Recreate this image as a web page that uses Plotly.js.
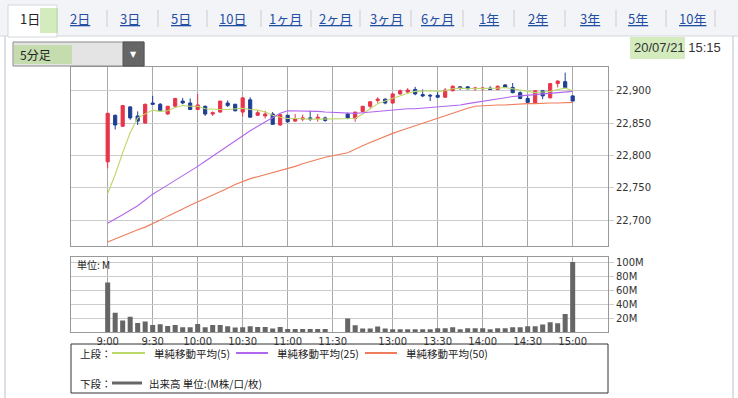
<!DOCTYPE html>
<html><head><meta charset="utf-8">
<script src="https://cdn.plot.ly/plotly-3.0.1.min.js"></script>
<style>html,body{margin:0;padding:0;background:#fff;}#chart{width:738px;height:398px;}</style>
</head><body><div id="chart"></div>
<script>
// ---- data (index 0..62 : 9:00..11:30, gap, 12:30..15:00, 5-minute bars) ----
const barIndex = Array.from({length:63},(_,i)=>i);
const openP  = [22790,22862,22845,22875,22861,22850,22881,22879,22864,22876,22884,22881,22871,22876,22864,22867,22881,22879,22867,22886,22862,22861,22864,22847,22862,22853,22856,22858,22857,22858,null,null,22864,22857,22868,22876,22885,22887,22881,22895,22898,22902,22894,22893,22893,22890,22900,22906,22906,22903,22903,22904,22902,22909,22905,22897,22888,22881,22900,22889,22911,22914,22892];
const highP  = [22866,22863,22878,22876,22868,22880,22892,22881,22876,22889,22889,22888,22895,22877,22868,22884,22885,22880,22889,22890,22870,22869,22867,22863,22863,22864,22863,22869,22864,22860,null,null,22866,22867,22876,22883,22890,22888,22896,22902,22904,22906,22902,22895,22898,22904,22908,22907,22907,22906,22906,22907,22908,22910,22912,22899,22892,22900,22901,22912,22916,22928,22893];
const lowP   = [22780,22840,22844,22855,22847,22849,22879,22868,22863,22875,22879,22870,22870,22861,22861,22866,22875,22868,22860,22859,22861,22857,22848,22846,22850,22852,22853,22853,22852,22852,null,null,22856,22852,22867,22872,22881,22879,22880,22894,22896,22893,22890,22884,22889,22889,22899,22901,22902,22900,22900,22901,22901,22904,22896,22887,22880,22880,22887,22888,22905,22904,22884];
const closeP = [22865,22847,22877,22858,22853,22879,22879,22869,22876,22888,22881,22871,22878,22864,22866,22884,22877,22869,22889,22859,22866,22864,22848,22863,22852,22857,22858,22856,22859,22854,null,null,22858,22867,22876,22883,22887,22881,22895,22900,22901,22895,22892,22892,22890,22901,22907,22904,22903,22904,22904,22902,22907,22905,22897,22888,22882,22900,22892,22911,22915,22905,22884];
const ma5    = [22741,22770,22804,22835,22858,22864,22870,22868,22869,22874,22877,22876,22876,22872,22871,22871,22871,22872,22873,22871,22870,22867,22862,22859,22857,22857,22856,22856,22856,22856,null,null,22856,22857,22864,22872,22880,22884,22888,22893,22896,22899,22900,22900,22899,22900,22903,22904,22903,22903,22903,22903,22904,22905,22903,22901,22898,22897,22898,22899,22902,22904,22900];
const ma25   = [22695,22701,22708,22715,22722,22731,22740,22747,22754,22761,22768,22775,22783,22791,22799,22807,22815,22823,22831,22838,22845,22852,22859,22865,22869,22869,22869,22868,22868,22867,null,null,22865,22865,22866,22867,22868,22869,22871,22871,22872,22872,22873,22873,22874,22875,22877,22878,22880,22882,22884,22886,22888,22890,22891,22892,22893,22894,22895,22896,22897,22898,22899];
const ma50   = [22666,22671,22675,22680,22685,22689,22694,22700,22706,22711,22717,22723,22728,22734,22739,22744,22749,22755,22760,22764,22767,22770,22774,22777,22780,22783,22787,22790,22794,22797,null,null,22804,22810,22815,22820,22825,22830,22834,22838,22842,22846,22850,22854,22857,22861,22865,22869,22873,22876,22877,22878,22878,22878,22879,22879,22880,22880,22881,22881,22881,22882,22882];
const volumeM= [71,27.7,16.5,21.8,13,15,10,11,8.7,10,6.8,6.8,11.6,6.8,10,10,8.3,6.3,6.8,8.3,7.3,7.3,4.9,7.3,4.4,4.4,4.4,4.4,4.4,4.4,null,null,19.4,9.7,4.9,4.9,7.8,4.9,3.9,3.9,3.9,3.9,3.9,3.9,5.3,5.3,6.8,3.9,5.3,5.3,5.3,3.9,5.3,5.3,6.8,6.8,8.3,8.3,10.7,14,12.6,25.7,100.5];
const timeTickIdx = [0,6,12,18,24,30,38,44,50,56,62];
const timeTickText = ['9:00','9:30','10:00','10:30','11:00','11:30','13:00','13:30','14:00','14:30','15:00'];
const priceTicks = [22700,22750,22800,22850,22900];
const volTicks = [20,40,60,80,100];
const volTickText = ['20M','40M','60M','80M','100M'];
const tabLabels = ['1日','2日','3日','5日','10日','1ヶ月','2ヶ月','3ヶ月','6ヶ月','1年','2年','3年','5年','10年'];
const legendLabels = ['単純移動平均(5)','単純移動平均(25)','単純移動平均(50)'];

// ---- page geometry helpers ----
const W=738,H=398,ML=71,MR=130,MT=67,MB=66;
const PW=W-ML-MR, PH=H-MT-MB;
const px=x=>(x-ML)/PW, py=y=>(H-MB-y)/PH;
const JP='Noto Sans CJK JP, sans-serif';
const NUM='DejaVu Sans, sans-serif';

const cRed='#e8344a', cBlue='#1f3f94';
const cMA5='#bcd86a', cMA25='#b266ee', cMA50='#ef7d5c';

const traces=[
 {type:'candlestick',x:barIndex,open:openP,high:highP,low:lowP,close:closeP,xaxis:'x',yaxis:'y',
  increasing:{line:{color:cRed,width:1},fillcolor:cRed},
  decreasing:{line:{color:cBlue,width:1},fillcolor:cBlue},
  whiskerwidth:0,showlegend:false,hoverinfo:'skip'},
 {type:'scatter',mode:'lines',x:barIndex,y:ma5,connectgaps:true,line:{color:cMA5,width:1.1},xaxis:'x',yaxis:'y',showlegend:false,hoverinfo:'skip'},
 {type:'scatter',mode:'lines',x:barIndex,y:ma25,connectgaps:true,line:{color:cMA25,width:1.1},xaxis:'x',yaxis:'y',showlegend:false,hoverinfo:'skip'},
 {type:'scatter',mode:'lines',x:barIndex,y:ma50,connectgaps:true,line:{color:cMA50,width:1.1},xaxis:'x',yaxis:'y',showlegend:false,hoverinfo:'skip'},
 {type:'bar',x:barIndex,y:volumeM,marker:{color:'#666666'},xaxis:'x2',yaxis:'y2',showlegend:false,hoverinfo:'skip'}
];

const xr=[-4.89,66.71];
const shapes=[], ann=[];
// header bar
shapes.push({type:'rect',xref:'paper',yref:'paper',x0:px(0),x1:px(738),y0:py(36),y1:py(0),fillcolor:'#f3f4f7',line:{width:0},layer:'below'});
shapes.push({type:'line',xref:'paper',yref:'paper',x0:px(0),x1:px(738),y0:py(36),y1:py(36),line:{color:'#d4d7de',width:1}});
shapes.push({type:'rect',xref:'paper',yref:'paper',x0:px(8),x1:px(57),y0:py(37),y1:py(5),fillcolor:'#ffffff',line:{color:'#d4d7de',width:1}});
// outer frame
shapes.push({type:'line',xref:'paper',yref:'paper',x0:px(5),x1:px(5),y0:py(36),y1:py(398),line:{color:'#cfd4de',width:1.5}});
shapes.push({type:'line',xref:'paper',yref:'paper',x0:px(733),x1:px(733),y0:py(36),y1:py(398),line:{color:'#cfd4de',width:1.5}});
// tabs
const tabX=[30,80,130,181,232,285,335,386,437,489,538,590,638,692];
const sepX=[107,158,207,261,311,360,411,463,514,565,616,666,715];
tabLabels.forEach((t,i)=>{
  ann.push({xref:'paper',yref:'paper',x:px(tabX[i]),y:py(18),xanchor:'center',yanchor:'middle',showarrow:false,
    text: i===0? t : '<span style="text-decoration:underline">'+t+'</span>',
    font:{family:JP,size:13,color:i===0?'#222':'#1f4ea3'}});
});
sepX.forEach(s=>shapes.push({type:'line',xref:'paper',yref:'paper',x0:px(s),x1:px(s),y0:py(10),y1:py(27),line:{color:'#cccccc',width:1}}));
// dropdown
shapes.push({type:'rect',xref:'paper',yref:'paper',x0:px(13),x1:px(144),y0:py(66),y1:py(42),fillcolor:'#e4e4e4',line:{color:'#8a8a8a',width:1}});
shapes.push({type:'rect',xref:'paper',yref:'paper',x0:px(123),x1:px(144),y0:py(66),y1:py(42),fillcolor:'#666666',line:{color:'#555',width:1}});
ann.push({xref:'paper',yref:'paper',x:px(133.5),y:py(54),xanchor:'center',yanchor:'middle',showarrow:false,text:'▼',font:{family:NUM,size:8,color:'#ffffff'}});
ann.push({xref:'paper',yref:'paper',x:px(18),y:py(54),xanchor:'left',yanchor:'middle',showarrow:false,text:'5分足',font:{family:JP,size:12,color:'#222'}});
// date
ann.push({xref:'paper',yref:'paper',x:px(723),y:py(47),xanchor:'right',yanchor:'middle',showarrow:false,text:'20/07/21 15:15',font:{family:'Liberation Sans, Arial, sans-serif',size:13,color:'#333'}});
// highlighter marks
const hl='rgba(160,210,110,0.45)';
shapes.push({type:'rect',xref:'paper',yref:'paper',x0:px(40),x1:px(58),y0:py(33),y1:py(8),fillcolor:hl,line:{width:0}});
shapes.push({type:'rect',xref:'paper',yref:'paper',x0:px(14),x1:px(72),y0:py(64),y1:py(45),fillcolor:hl,line:{width:0}});
shapes.push({type:'rect',xref:'paper',yref:'paper',x0:px(630),x1:px(685),y0:py(59),y1:py(37),fillcolor:hl,line:{width:0}});
// volume unit label
ann.push({xref:'paper',yref:'paper',x:px(75),y:py(264),xanchor:'left',yanchor:'middle',showarrow:false,text:'単位: M',font:{family:JP,size:10,color:'#222'}});
// legend box
shapes.push({type:'rect',xref:'paper',yref:'paper',x0:px(71),x1:px(608),y0:py(393),y1:py(344),line:{color:'#333',width:1},fillcolor:'rgba(0,0,0,0)'});
ann.push({xref:'paper',yref:'paper',x:px(78),y:py(353),xanchor:'left',yanchor:'middle',showarrow:false,text:'上段：',font:{family:JP,size:10.5,color:'#222'}});
ann.push({xref:'paper',yref:'paper',x:px(78),y:py(383),xanchor:'left',yanchor:'middle',showarrow:false,text:'下段：',font:{family:JP,size:10.5,color:'#222'}});
const lgLineX=[[112,145],[236,268],[365,397]], lgTextX=[152,275,404], lgCol=[cMA5,cMA25,cMA50];
legendLabels.forEach((t,i)=>{
  shapes.push({type:'line',xref:'paper',yref:'paper',x0:px(lgLineX[i][0]),x1:px(lgLineX[i][1]),y0:py(353),y1:py(353),line:{color:lgCol[i],width:2}});
  ann.push({xref:'paper',yref:'paper',x:px(lgTextX[i]),y:py(353),xanchor:'left',yanchor:'middle',showarrow:false,text:t,font:{family:JP,size:10.5,color:'#222'}});
});
shapes.push({type:'line',xref:'paper',yref:'paper',x0:px(112),x1:px(142),y0:py(383),y1:py(383),line:{color:'#666',width:3}});
ann.push({xref:'paper',yref:'paper',x:px(147),y:py(383),xanchor:'left',yanchor:'middle',showarrow:false,text:'出来高 単位:(M株/口/枚)',font:{family:JP,size:10.5,color:'#222'}});

const layout={
 width:W,height:H,margin:{l:ML,r:MR,t:MT,b:MB,pad:0},
 paper_bgcolor:'#ffffff',plot_bgcolor:'#ffffff',showlegend:false,
 boxgap:0.4,bargap:0.33,
 xaxis:{domain:[0,1],range:xr,anchor:'y',tickmode:'array',tickvals:timeTickIdx,showticklabels:false,
   showgrid:true,gridcolor:'#aaaaaa',gridwidth:1,showline:true,mirror:true,linecolor:'#999',zeroline:false,
   rangeslider:{visible:false},fixedrange:true,ticks:''},
 yaxis:{domain:[py(246),1],range:[22659.8,22936.7],anchor:'x',side:'right',tickmode:'array',tickvals:priceTicks,
   tickformat:',d',showgrid:true,gridcolor:'#cccccc',showline:true,mirror:true,linecolor:'#999',zeroline:false,
   ticks:'outside',ticklen:5,tickcolor:'#cccccc',tickfont:{family:NUM,size:10,color:'#333'},fixedrange:true},
 xaxis2:{domain:[0,1],range:xr,anchor:'y2',tickmode:'array',tickvals:timeTickIdx,ticktext:timeTickText,
   showgrid:true,gridcolor:'#aaaaaa',showline:true,mirror:true,linecolor:'#999',zeroline:false,ticks:'',
   tickfont:{family:NUM,size:10,color:'#333'},fixedrange:true},
 yaxis2:{domain:[0,py(256.7)],range:[0,108],anchor:'x2',side:'right',tickmode:'array',tickvals:volTicks,ticktext:volTickText,
   showgrid:true,gridcolor:'#cccccc',showline:true,mirror:true,linecolor:'#999',zeroline:false,
   ticks:'outside',ticklen:5,tickcolor:'#cccccc',tickfont:{family:NUM,size:10,color:'#333'},fixedrange:true},
 shapes:shapes,annotations:ann
};
Plotly.newPlot('chart',traces,layout,{displayModeBar:false,staticPlot:true});
</script></body></html>
